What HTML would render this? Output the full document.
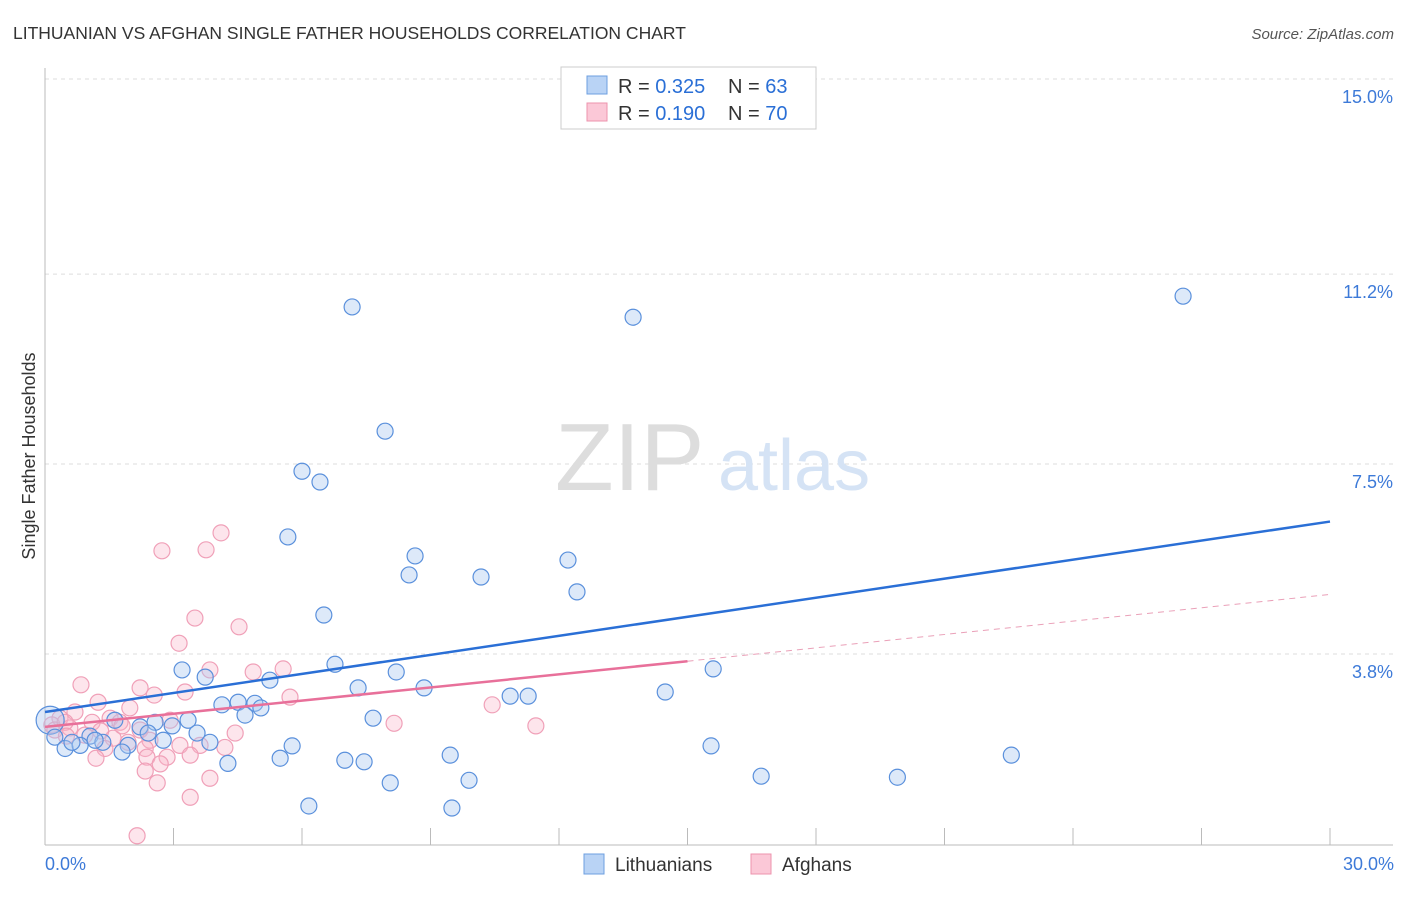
<!DOCTYPE html>
<html><head><meta charset="utf-8"><style>
body{margin:0;background:#fff;font-family:"Liberation Sans",sans-serif;}
svg text{font-family:"Liberation Sans",sans-serif;}
</style></head><body>
<svg width="1406" height="892" xmlns="http://www.w3.org/2000/svg">
<text x="13" y="39" font-size="17.5" fill="#333">LITHUANIAN VS AFGHAN SINGLE FATHER HOUSEHOLDS CORRELATION CHART</text>
<text x="1394" y="39" font-size="15" fill="#555" font-style="italic" text-anchor="end">Source: ZipAtlas.com</text>
<g id="grid"></g>
<g id="axes"></g>
<text x="555" y="490" font-size="96" fill="#ddd" font-family="Liberation Serif">ZIP</text>
<text x="718" y="490" font-size="72" fill="#d5e3f5">atlas</text>
<g id="pts"></g>
<g id="trend"></g>
<text x="35" y="456" font-size="18" fill="#333" text-anchor="middle" transform="rotate(-90 35 456)">Single Father Households</text>
<g>
<rect x="561" y="67" width="255" height="62" fill="#fff" stroke="#ccc"/>
<rect x="587" y="76" width="20" height="18" fill="#b9d3f5" stroke="#6d9fe0"/>
<rect x="587" y="103" width="20" height="18" fill="#fbc8d7" stroke="#ec93ae"/>
<text x="618" y="93" font-size="20" fill="#333">R = <tspan fill="#2a6fd6">0.325</tspan></text>
<text x="728" y="93" font-size="20" fill="#333">N = <tspan fill="#2a6fd6">63</tspan></text>
<text x="618" y="120" font-size="20" fill="#333">R = <tspan fill="#2a6fd6">0.190</tspan></text>
<text x="728" y="120" font-size="20" fill="#333">N = <tspan fill="#2a6fd6">70</tspan></text>
</g>
<g>
<rect x="584" y="854" width="20" height="20" fill="#b9d3f5" stroke="#6d9fe0"/>
<text x="615" y="871" font-size="19" fill="#333">Lithuanians</text>
<rect x="751" y="854" width="20" height="20" fill="#fbc8d7" stroke="#ec93ae"/>
<text x="782" y="871" font-size="19" fill="#333">Afghans</text>
</g>
</svg>
<script>
const blueX=[7.17,13.73,26.57,7.94,6.0,6.42,5.67,8.64,8.5,10.18,12.21,12.42,6.51,6.77,3.2,3.74,5.25,8.2,15.6,7.31,8.85,14.48,10.86,11.28,4.51,4.9,4.13,5.04,4.67,7.66,3.34,2.57,2.97,2.22,1.63,3.55,2.41,1.05,0.12,0.23,0.47,0.82,1.35,1.94,2.76,3.85,5.77,1.8,15.55,9.46,5.49,4.27,7.0,7.45,22.56,9.9,16.72,19.9,8.06,6.16,9.5,1.17,0.63];
const blueY=[10.56,10.36,10.77,8.14,7.36,7.15,6.08,5.71,5.34,5.30,5.63,5.01,4.56,3.60,3.49,3.35,3.29,3.45,3.51,3.14,3.14,3.06,2.98,2.98,2.86,2.84,2.81,2.75,2.61,2.55,2.51,2.47,2.40,2.38,2.51,2.26,2.26,2.20,2.51,2.18,1.96,2.02,2.08,2.02,2.12,2.08,2.01,1.89,2.01,1.83,1.77,1.67,1.73,1.70,1.83,1.34,1.42,1.40,1.29,0.84,0.80,2.12,2.08];
const pinkX=[4.11,2.73,3.76,3.5,4.53,3.13,3.85,4.86,5.56,0.84,2.22,3.27,2.55,5.72,1.24,10.44,1.98,0.7,0.35,1.52,1.1,1.75,2.92,8.15,11.46,0.16,0.58,2.22,4.44,0.93,1.59,2.45,1.94,3.15,3.62,4.2,1.4,2.34,1.19,2.38,3.39,2.85,2.69,2.34,3.85,2.62,3.39,2.15,0.23,0.47,1.3,0.5,1.8];
const pinkY=[6.16,5.81,5.83,4.5,4.33,4.01,3.49,3.45,3.51,3.2,3.14,3.06,3.0,2.96,2.86,2.81,2.75,2.67,2.55,2.55,2.47,2.47,2.51,2.45,2.4,2.42,2.36,2.32,2.26,2.22,2.16,2.12,2.08,2.02,2.02,1.98,1.96,1.96,1.77,1.79,1.83,1.79,1.66,1.52,1.38,1.29,1.01,0.26,2.32,2.47,2.3,2.2,2.4];
const yTicks=[15.0,11.2,7.5,3.8];
const xTicks=[0,3,6,9,12,15,18,21,24,27,30];
const blueTrend=[[0,2.67],[30,6.38]];
const pinkTrend=[[0,2.38],[15,3.66],[30,4.96]];
const NS='http://www.w3.org/2000/svg';
const xs=v=>45+v/30*1285;
const ys=v=>79+(15-v)*51.34;
function mk(t,a,p){const e=document.createElementNS(NS,t);for(const k in a)e.setAttribute(k,a[k]);p.appendChild(e);return e;}
const grid=document.getElementById('grid'),axes=document.getElementById('axes');
yTicks.forEach(v=>{
 const l=mk('line',{x1:45,x2:1393,y1:ys(v),y2:ys(v),stroke:'#ddd','stroke-dasharray':'4,4'},grid);
 
 const t=mk('text',{x:1393,y:ys(v)+24,'font-size':18,fill:'#3d7ad8','text-anchor':'end'},grid);
 t.textContent=v.toFixed(1)+'%';
 
});
mk('line',{x1:45,x2:45,y1:68,y2:845,stroke:'#bbb'},axes);
mk('line',{x1:45,x2:1393,y1:845,y2:845,stroke:'#bbb'},axes);
xTicks.forEach(v=>{
 const l=mk('line',{x1:xs(v),x2:xs(v),y1:828,y2:845,stroke:'#bbb'},axes);
 
});
const t0=mk('text',{x:45,y:870,'font-size':18,fill:'#3d7ad8'},axes);t0.textContent='0.0%';

const t1=mk('text',{x:1394,y:870,'font-size':18,fill:'#3d7ad8','text-anchor':'end'},axes);t1.textContent='30.0%';

const pts=document.getElementById('pts');
pinkX.forEach((x,i)=>{
 const c=mk('circle',{cx:xs(x),cy:ys(pinkY[i]),r:8,fill:'rgba(248,180,200,0.35)',stroke:'#f0a0b8','stroke-width':1.2},pts);
 
});
blueX.forEach((x,i)=>{
 const c=mk('circle',{cx:xs(x),cy:ys(blueY[i]),r:i==38?14:8,fill:'rgba(170,200,240,0.4)',stroke:'#5a90dc','stroke-width':1.2},pts);
 
});
const tr=document.getElementById('trend');
const bl=mk('line',{x1:xs(blueTrend[0][0]),y1:ys(blueTrend[0][1]),x2:xs(blueTrend[1][0]),y2:ys(blueTrend[1][1]),stroke:'#2a6fd6','stroke-width':2.5},tr);

const pl=mk('line',{x1:xs(pinkTrend[0][0]),y1:ys(pinkTrend[0][1]),x2:xs(pinkTrend[1][0]),y2:ys(pinkTrend[1][1]),stroke:'#e8709a','stroke-width':2.5},tr);

const pd=mk('line',{x1:xs(pinkTrend[1][0]),y1:ys(pinkTrend[1][1]),x2:xs(pinkTrend[2][0]),y2:ys(pinkTrend[2][1]),stroke:'#eaa0b8','stroke-width':1,'stroke-dasharray':'6,5'},tr);

</script>
</body></html>
